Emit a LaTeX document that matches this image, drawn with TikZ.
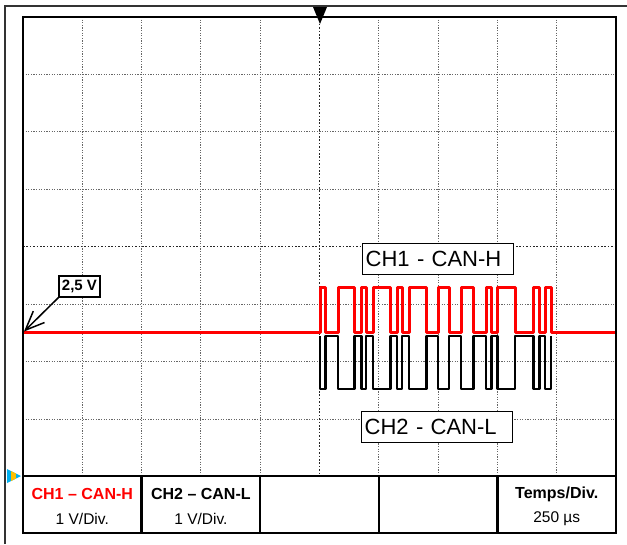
\documentclass[tikz,border=0pt]{standalone}
\usepackage{fontspec}
\setmainfont{Liberation Sans}
\usetikzlibrary{arrows.meta}
\definecolor{mkcyan}{RGB}{0,176,240}
\definecolor{mkyellow}{RGB}{255,192,0}
\tikzset{
  gridline/.style={black!60, line width=0.9pt, dash pattern=on 1.2pt off 1.4pt},
  gridcenter/.style={black!85, line width=1.1pt, dash pattern=on 1.6pt off 1.8pt},
  frameline/.style={black, line width=2.4pt},
  chbox/.style={draw, fill=white, line width=1.4pt, text width=145pt, inner sep=3pt, align=left, minimum height=31pt, font=\fontsize{22}{24}\selectfont},
  hdr/.style={font=\bfseries\fontsize{16}{18}\selectfont},
  val/.style={font=\fontsize{15.5}{17}\selectfont},
  redtrace/.style={red, line width=3pt, line join=round},
  blacktrace/.style={black, line width=2.6pt, line join=round}
}
\begin{document}
\begin{tikzpicture}[x=1pt,y=-1pt]
\useasboundingbox (0,0) rectangle (627,544);
% outer frame
\draw[black!80, line width=2.2pt] (5,544) -- (5,6) -- (627,6);
% grid
\foreach \k in {1,2,3,5,6,7} \draw[gridline] (23,{17+57.43*\k}) -- (616,{17+57.43*\k});
\draw[gridcenter] (23,246.7) -- (616,246.7);
\foreach \k in {1,2,3,4,6,7,8,9} \draw[gridline] ({23+59.3*\k},17) -- ({23+59.3*\k},476);
\draw[gridcenter] (319.5,17) -- (319.5,476);
% traces
\def\pulses{320/325.5,338/354.5,361.7/366,373/390.3,397/402,409/426.5,438/449,461/473.3,486/491.7,497.4/515,533.3/539.3,545/551}
\draw[blacktrace] (320,336) \foreach \a/\b in \pulses { -- (\a,336) -- (\a,389) -- (\b,389) -- (\b,336) };
\draw[redtrace] (23,332.5) \foreach \a/\b in \pulses { -- (\a,332.5) -- (\a,287) -- (\b,287) -- (\b,332.5) } -- (616,332.5);
% labels
\node[chbox, anchor=north west] (ch1) at (362,243) {CH1 - CAN-H};
\node[chbox, anchor=north west] (ch2) at (361,411) {CH2 - CAN-L};
\node[draw, fill=white, line width=1.2pt, inner sep=0pt, minimum width=41pt, minimum height=21pt, font=\bfseries\fontsize{15}{17}\selectfont] (v25) at (79.5,286.5) {2,5 V};
\coordinate (lvl) at (24,331.5);
\draw[line width=1.5pt, -{Straight Barb[length=19pt,width=16pt,line width=1.5pt]}] (v25.south west) -- (lvl);
% frame and table
\draw[frameline] (23,17) rectangle (616,533);
\draw[frameline] (23,476) -- (616,476);
\foreach \x in {141.6,260.2,378.8,497.4} \draw[frameline] (\x,476) -- (\x,533);
\node[hdr, text=red] (h1) at (82.3,494) {CH1 – CAN-H};
\node[val] (v1) at (82.3,519) {1 V/Div.};
\node[hdr] (h2) at (200.9,494) {CH2 – CAN-L};
\node[val] (v2) at (200.9,519) {1 V/Div.};
\node[hdr] (h5) at (556.7,494) {Temps/Div.};
\node[val] (v5) at (556.7,519) {250 µs};
% markers
\fill[black] (313,7) -- (327,7) -- (320,24) -- cycle;
\begin{scope}
\clip (7,469) -- (7,483) -- (21,476) -- cycle;
\fill[mkcyan] (5,465) rectangle (23,487);
\fill[mkyellow] (11,465) rectangle (15.5,487);
\end{scope}
\end{tikzpicture}
\end{document}
